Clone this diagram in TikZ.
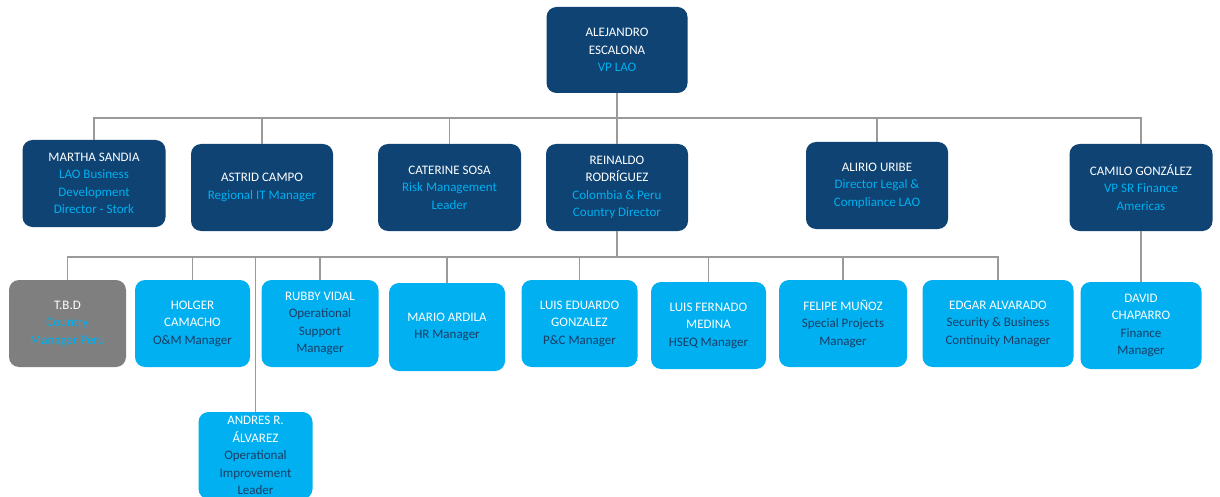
\documentclass[tikz,border=0pt]{standalone}
\usepackage{fontspec}
\setmainfont{Carlito}
\definecolor{navy}{HTML}{0E4373}
\definecolor{sky}{HTML}{00B0F0}
\definecolor{greyc}{HTML}{7F7F7F}
\definecolor{subc}{HTML}{1B3E66}
\definecolor{connc}{HTML}{9A9A9A}
\newcommand{\rsky}[1]{\textcolor{sky}{#1}}
\newcommand{\rnav}[1]{\textcolor{subc}{#1}}
\begin{document}
\begin{tikzpicture}[x=1pt,y=-1pt,
  box/.style={rounded corners=10pt, align=center, inner sep=1pt,
    font=\fontsize{13}{17.5}\selectfont, text=white},
  dbox/.style={box, fill=navy},
  lbox/.style={box, fill=sky},
  gybox/.style={box, fill=greyc},
  link/.style={draw=connc, line width=1.7pt}]
\fill[white] (0,0) rectangle (1220,497);
\clip (0,0) rectangle (1220,497);

% top
\node[dbox, minimum width=141, minimum height=86] (vp) at (617,50)
  {ALEJANDRO\\ESCALONA\\\rsky{VP LAO}};

% level 2
\node[dbox, minimum width=143, minimum height=87] (martha) at (94,183.5)
  {MARTHA SANDIA\\\rsky{LAO Business}\\\rsky{Development}\\\rsky{Director - Stork}};
\node[dbox, minimum width=142, minimum height=87] (astrid) at (262,187.5)
  {ASTRID CAMPO\\\rsky{Regional IT Manager}};
\node[dbox, minimum width=143, minimum height=87] (caterine) at (449.5,187.5)
  {CATERINE SOSA\\\rsky{Risk Management}\\\rsky{Leader}};
\node[dbox, minimum width=142, minimum height=87] (reinaldo) at (617,187.5)
  {REINALDO\\RODRÍGUEZ\\\rsky{Colombia \& Peru}\\\rsky{Country Director}};
\node[dbox, minimum width=142, minimum height=87] (alirio) at (877,185.5)
  {ALIRIO URIBE\\\rsky{Director Legal \&}\\\rsky{Compliance LAO}};
\node[dbox, minimum width=143, minimum height=87] (camilo) at (1141,187.5)
  {CAMILO GONZÁLEZ\\\rsky{VP SR Finance}\\\rsky{Americas}};

% level 3
\node[gybox, minimum width=117, minimum height=87] (tbd) at (67.5,323.5)
  {T.B.D\\\rsky{Country}\\\rsky{Manager Peru}};
\node[lbox, minimum width=115, minimum height=87] (holger) at (192.5,323.5)
  {HOLGER\\CAMACHO\\\rnav{O\&M Manager}};
\node[lbox, minimum width=117, minimum height=87] (rubby) at (320,323.5)
  {RUBBY VIDAL\\\rnav{Operational}\\\rnav{Support}\\\rnav{Manager}};
\node[lbox, minimum width=116, minimum height=88] (mario) at (447,327)
  {MARIO ARDILA\\\rnav{HR Manager}};
\node[lbox, minimum width=116, minimum height=87] (luise) at (579.5,323.5)
  {LUIS EDUARDO\\GONZALEZ\\\rnav{P\&C Manager}};
\node[lbox, minimum width=115, minimum height=87] (luisf) at (708.5,325.5)
  {LUIS FERNADO\\MEDINA\\\rnav{HSEQ Manager}};
\node[lbox, minimum width=128, minimum height=87] (felipe) at (843,323.5)
  {FELIPE MUÑOZ\\\rnav{Special Projects}\\\rnav{Manager}};
\node[lbox, minimum width=151, minimum height=87] (edgar) at (998,323.5)
  {EDGAR ALVARADO\\\rnav{Security \& Business}\\\rnav{Continuity Manager}};
\node[lbox, minimum width=121, minimum height=87] (david) at (1141,325.5)
  {DAVID\\CHAPARRO\\\rnav{Finance}\\\rnav{Manager}};
\node[lbox, minimum width=114, minimum height=87] (andres) at (255.5,455.5)
  {ANDRES R.\\ÁLVAREZ\\\rnav{Operational}\\\rnav{Improvement}\\\rnav{Leader}};

% connectors level 1
\coordinate (busa) at (617,118);
\draw[link] (vp.south) -- (reinaldo.north);
\draw[link] (martha.north) |- (busa) -| (camilo.north);
\draw[link] (astrid.north) -- (astrid.north |- busa);
\draw[link] (caterine.north) -- (caterine.north |- busa);
\draw[link] (alirio.north) -- (alirio.north |- busa);

% connectors level 2
\coordinate (busb) at (617,257);
\draw[link] (reinaldo.south) -- (busb);
\draw[link] (tbd.north) |- (busb) -| (edgar.north);
\draw[link] (holger.north) -- (holger.north |- busb);
\draw[link] (andres.north) -- (andres.north |- busb);
\draw[link] (rubby.north) -- (rubby.north |- busb);
\draw[link] (mario.north) -- (mario.north |- busb);
\draw[link] (luise.north) -- (luise.north |- busb);
\draw[link] (luisf.north) -- (luisf.north |- busb);
\draw[link] (felipe.north) -- (felipe.north |- busb);
\draw[link] (camilo.south) -- (david.north);
\end{tikzpicture}
\end{document}
